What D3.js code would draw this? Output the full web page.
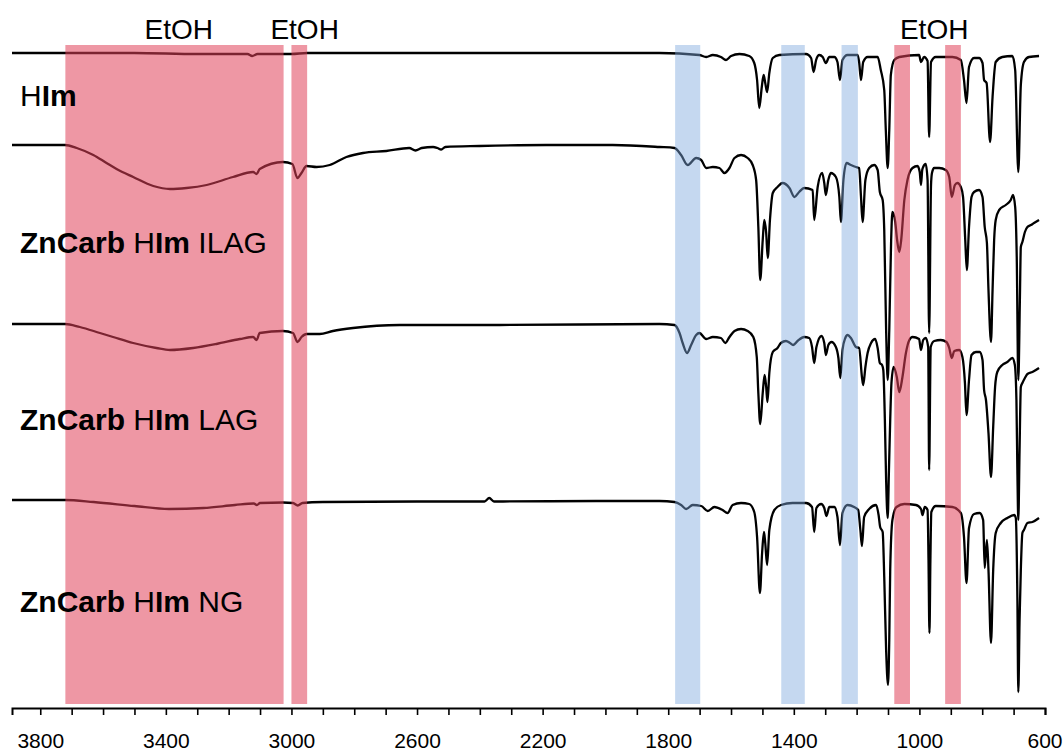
<!DOCTYPE html>
<html><head><meta charset="utf-8">
<script src="https://cdn.jsdelivr.net/npm/d3@7"></script>
<style>body{margin:0;background:#fff} svg{display:block}</style>
</head><body><svg id="c" width="1064" height="754"></svg>
<script>
// ---------- data ----------
const tickValues = d3.range(600, 3801, 100);
const tickLabels = [3800, 3400, 3000, 2600, 2200, 1800, 1400, 1000, 600];
const ethanolBands = [[3720, 3025], [3000, 2950], [1080, 1030], [918, 868]];
const imidazoleBands = [[1778, 1698], [1440, 1365], [1248, 1196]];
const ethanolLabelPos = [3359, 2958, 953];
const ethanolLabelText = "EtOH";

const seriesNames = [
  [["H", "normal"], ["Im", "bold"]],
  [["ZnCarb ", "bold"], ["H", "normal"], ["Im", "bold"], [" ILAG", "normal"]],
  [["ZnCarb ", "bold"], ["H", "normal"], ["Im", "bold"], [" LAG", "normal"]],
  [["ZnCarb ", "bold"], ["H", "normal"], ["Im", "bold"], [" NG", "normal"]]
];

// [wavenumber (cm-1), offset transmittance]
const him = [
[3890,65.2],[3720,65.2],[3500,65.2],[3300,65.1],[3140,65.1],[3125,64.9],[3108,65.1],[3000,65.1],[2950,65.2],[2600,65.2],[2200,65.2],[1828,65.2],
[1701,65.0],[1679,64.8],[1658,65.0],[1632,64.8],[1616,64.5],[1600,64.9],[1573,65.1],[1542,64.9],[1526,64.2],[1517,62.5],[1510,59.7],[1502,61.8],[1496,63.0],[1491,62.2],[1485,61.3],[1478,63.2],[1467,64.7],[1446,65.0],[1361,65.1],[1345,64.7],[1337,63.3],[1329,64.5],[1319,65.0],[1308,64.8],[1298,64.2],[1287,64.8],[1271,64.8],[1261,64.3],[1253,62.5],[1245,64.5],[1229,65.0],[1197,65.0],[1192,64.3],[1186,62.5],[1179,64.3],[1165,64.8],[1133,64.8],[1123,63.5],[1112,61.5],[1107,57.5],[1101,53.7],[1096,57.5],[1091,63.0],[1080,64.5],[1064,64.8],[1001,65.0],[995,64.3],[985,64.8],[974,64.4],[969,56.8],[963,64.3],[948,64.8],[895,64.8],[868,64.5],[858,62.5],[850,60.2],[842,63.8],[826,64.7],[810,64.7],[799,64.2],[794,62.5],[786,62.2],[775,56.3],[767,60.8],[757,64.3],[736,64.8],[704,64.9],[695,63.5],[685,53.3],[677,62.0],[667,64.3],[651,64.8],[619,64.9]
];
const ilag = [
[3890,56.0],[3721,56.0],[3684,55.7],[3631,55.0],[3589,54.2],[3557,53.6],[3504,52.8],[3440,51.9],[3387,51.6],[3334,51.7],[3270,52.0],[3186,52.8],[3122,53.3],[3111,53.1],[3101,53.6],[3027,54.3],[2997,54.1],[2981,52.7],[2968,53.2],[2952,53.9],[2920,53.8],[2878,54.0],[2825,54.8],[2772,55.2],[2698,55.4],[2625,55.7],[2605,55.45],[2585,55.7],[2549,55.8],[2535,55.7],[2523,55.55],[2510,55.8],[2401,55.9],[2189,56.0],[1977,56.0],[1828,55.8],
[1780,55.7],[1759,55.0],[1738,54.0],[1711,54.7],[1695,54.5],[1679,53.7],[1658,53.8],[1637,53.7],[1621,53.2],[1605,53.7],[1589,54.7],[1568,55.0],[1547,54.7],[1531,54.0],[1520,52.5],[1513,47.8],[1507,42.5],[1499,46.5],[1494,48.5],[1488,47.2],[1483,44.7],[1476,48.5],[1467,51.2],[1452,51.8],[1436,52.2],[1414,51.7],[1398,50.8],[1383,51.3],[1367,51.7],[1340,51.5],[1335,48.5],[1324,51.8],[1310,53.2],[1303,52.2],[1298,51.0],[1290,52.5],[1282,53.2],[1266,52.8],[1255,50.8],[1250,48.3],[1242,52.5],[1232,54.2],[1218,54.0],[1202,53.8],[1192,53.7],[1186,50.8],[1181,48.3],[1172,52.5],[1160,53.7],[1144,54.0],[1133,53.5],[1126,51.3],[1117,50.5],[1112,47.5],[1106,37.5],[1101,32.5],[1096,37.5],[1090,46.5],[1086,49.3],[1077,48.3],[1071,46.5],[1064,45.3],[1058,46.5],[1048,50.5],[1038,52.5],[1022,53.7],[1006,53.9],[999,53.3],[995,52.0],[991,53.5],[988,53.8],[980,54.1],[974,52.5],[969,37.2],[963,52.0],[960,53.2],[953,53.7],[937,53.7],[916,53.5],[905,52.8],[897,50.8],[887,52.0],[879,52.2],[868,51.8],[861,50.8],[854,46.5],[849,43.5],[842,47.8],[834,50.8],[826,51.3],[810,51.5],[799,50.8],[792,47.8],[785,46.2],[780,41.5],[772,36.3],[767,41.5],[762,46.5],[757,48.5],[746,49.5],[725,50.0],[709,50.5],[702,51.0],[695,49.8],[690,44.8],[685,32.5],[680,40.5],[677,45.8],[672,46.3],[664,47.3],[656,47.8],[645,48.0],[635,48.2],[619,48.5]
];
const lag = [
[3890,38.1],[3721,38.1],[3674,37.8],[3610,37.2],[3568,36.8],[3504,36.2],[3430,35.7],[3387,35.5],[3313,35.7],[3239,36.1],[3164,36.6],[3122,36.8],[3111,36.5],[3101,37.2],[3027,37.4],[2995,37.2],[2981,36.3],[2968,36.8],[2952,37.1],[2910,37.1],[2868,37.4],[2804,37.7],[2655,38.0],[2337,38.0],[1828,38.1],
[1780,38.0],[1764,37.2],[1754,36.2],[1740,35.2],[1727,36.0],[1711,37.0],[1701,37.2],[1679,36.6],[1658,36.8],[1632,36.7],[1618,36.2],[1605,36.8],[1589,37.4],[1568,37.6],[1547,37.4],[1529,36.8],[1518,34.8],[1513,31.2],[1507,28.1],[1499,31.2],[1493,33.0],[1488,31.8],[1484,30.3],[1478,33.2],[1467,35.3],[1452,35.7],[1441,36.2],[1425,36.4],[1412,36.2],[1402,36.0],[1388,36.4],[1367,36.8],[1351,36.7],[1342,35.8],[1335,34.2],[1328,35.8],[1312,36.9],[1303,36.2],[1298,35.0],[1290,36.0],[1280,36.3],[1266,35.8],[1258,34.7],[1252,32.7],[1245,35.5],[1236,36.7],[1229,37.0],[1218,36.7],[1202,35.8],[1192,35.7],[1183,32.8],[1179,32.0],[1172,33.8],[1165,35.2],[1154,36.2],[1141,36.6],[1133,35.7],[1126,34.2],[1119,34.0],[1115,33.5],[1110,28.5],[1106,22.5],[1101,18.7],[1097,23.5],[1093,28.5],[1089,32.2],[1082,33.8],[1072,32.8],[1064,31.3],[1054,32.8],[1043,35.2],[1032,36.5],[1022,36.8],[1001,36.6],[995,35.5],[988,36.5],[980,36.7],[972,35.8],[969,23.5],[964,35.8],[953,36.4],[932,36.5],[914,36.3],[905,35.7],[897,34.7],[889,35.4],[873,35.5],[863,34.8],[855,32.2],[850,29.0],[842,32.5],[834,35.0],[820,35.3],[808,35.3],[799,34.5],[794,31.5],[788,30.5],[780,27.2],[772,22.8],[765,27.8],[759,31.8],[752,33.3],[736,34.0],[720,34.3],[704,34.7],[696,34.0],[691,30.5],[688,23.5],[685,18.5],[681,25.5],[677,31.8],[672,32.2],[664,32.7],[656,33.1],[640,33.3],[619,33.7]
];
const ng = [
[3890,20.5],[3721,20.5],[3630,20.3],[3500,19.9],[3390,19.6],[3280,19.7],[3180,20.0],[3120,20.15],[3110,20.0],[3100,20.2],[3027,20.25],[2995,20.2],[2980,19.95],[2965,20.2],[2900,20.3],[2600,20.35],[2385,20.35],[2370,20.7],[2355,20.35],[2000,20.4],[1828,20.4],
[1780,20.3],[1759,20.0],[1743,19.6],[1722,20.0],[1695,19.9],[1674,19.4],[1653,19.8],[1627,19.5],[1611,19.2],[1595,20.0],[1568,20.2],[1542,20.1],[1526,19.3],[1517,16.8],[1508,11.2],[1501,15.2],[1495,17.3],[1491,16.2],[1485,14.0],[1478,17.5],[1462,19.5],[1441,20.0],[1404,20.2],[1361,20.2],[1342,19.8],[1335,17.3],[1328,19.7],[1313,20.1],[1303,19.7],[1296,18.9],[1287,19.8],[1271,19.8],[1261,18.8],[1253,16.0],[1245,19.2],[1229,20.0],[1208,19.8],[1195,19.5],[1188,17.5],[1183,15.9],[1176,18.8],[1160,19.6],[1138,20.0],[1130,19.0],[1125,17.8],[1117,17.3],[1112,12.8],[1106,5.5],[1100,2.0],[1096,6.5],[1093,13.5],[1086,18.5],[1073,19.8],[1048,20.1],[1011,20.0],[995,19.6],[990,19.0],[983,19.8],[974,19.5],[971,14.5],[968,7.2],[965,14.5],[962,19.3],[948,19.9],[895,19.8],[868,19.2],[858,16.8],[850,12.2],[842,17.7],[826,19.1],[808,19.2],[797,18.5],[792,13.7],[785,16.5],[780,13.5],[772,6.2],[765,13.5],[757,17.2],[741,18.2],[720,18.7],[698,19.0],[693,18.7],[688,10.8],[685,1.3],[681,8.5],[677,13.5],[672,17.2],[667,17.5],[656,18.2],[640,18.3],[619,18.7]
];
const spectra = [him, ilag, lag, ng];

// ---------- layout ----------
const axisY = 708;
const labelBaselines = [106, 253, 430, 612];
const FONT = "'Liberation Sans', Arial, Helvetica, sans-serif";

const svg = d3.select("#c");
const x = d3.scaleLinear().domain([3890, 600]).range([12, 1045]);
const y = d3.scaleLinear().domain([0, 66]).range([705, 45]);

// spectra
const line = d3.line().x(d => x(d[0])).y(d => y(d[1])).curve(d3.curveMonotoneX);
svg.append("g").selectAll("path").data(spectra).join("path")
  .attr("d", line).attr("fill", "none").attr("stroke", "#000")
  .attr("stroke-width", 2.3).attr("stroke-linejoin", "round");

// shaded bands on top (semi-transparent)
const bandTop = y(66), bandBot = 704;
svg.append("g").selectAll("rect").data(ethanolBands).join("rect")
  .attr("x", d => x(d[0])).attr("width", d => x(d[1]) - x(d[0]))
  .attr("y", bandTop).attr("height", bandBot - bandTop)
  .attr("fill", "#e0415a").attr("fill-opacity", 0.55);
svg.append("g").selectAll("rect").data(imidazoleBands).join("rect")
  .attr("x", d => x(d[0])).attr("width", d => x(d[1]) - x(d[0]))
  .attr("y", bandTop).attr("height", bandBot - bandTop)
  .attr("fill", "#7fa9de").attr("fill-opacity", 0.45);

// EtOH labels
svg.append("g").selectAll("text").data(ethanolLabelPos).join("text")
  .attr("x", d => x(d)).attr("y", 39).attr("text-anchor", "middle")
  .attr("font-family", FONT).attr("font-size", 28).attr("fill", "#000")
  .text(ethanolLabelText);

// series labels
const lab = svg.append("g").selectAll("text").data(seriesNames).join("text")
  .attr("x", 20).attr("y", (d, i) => labelBaselines[i])
  .attr("font-family", FONT).attr("font-size", 30).attr("fill", "#000")
  .attr("xml:space", "preserve").style("white-space", "pre");
lab.selectAll("tspan").data(d => d).join("tspan")
  .attr("font-weight", d => d[1]).text(d => d[0]);

// axis
const axis = d3.axisBottom(x).tickValues(tickValues).tickSize(7).tickSizeOuter(7)
  .tickFormat(d => tickLabels.includes(d) ? d : "");
const ag = svg.append("g").attr("transform", `translate(0,${axisY})`).call(axis);
ag.select(".domain").attr("stroke", "#000").attr("stroke-width", 2);
ag.selectAll(".tick line").attr("stroke", "#000").attr("stroke-width", 1.6);
ag.selectAll(".tick text").attr("y", 40).attr("dy", 0)
  .attr("font-family", FONT).attr("font-size", 21).attr("fill", "#000");
// keep the last label inside the picture
ag.selectAll(".tick text").filter(d => d === 600).attr("text-anchor", "end").attr("x", 17);
</script>
</body></html>
